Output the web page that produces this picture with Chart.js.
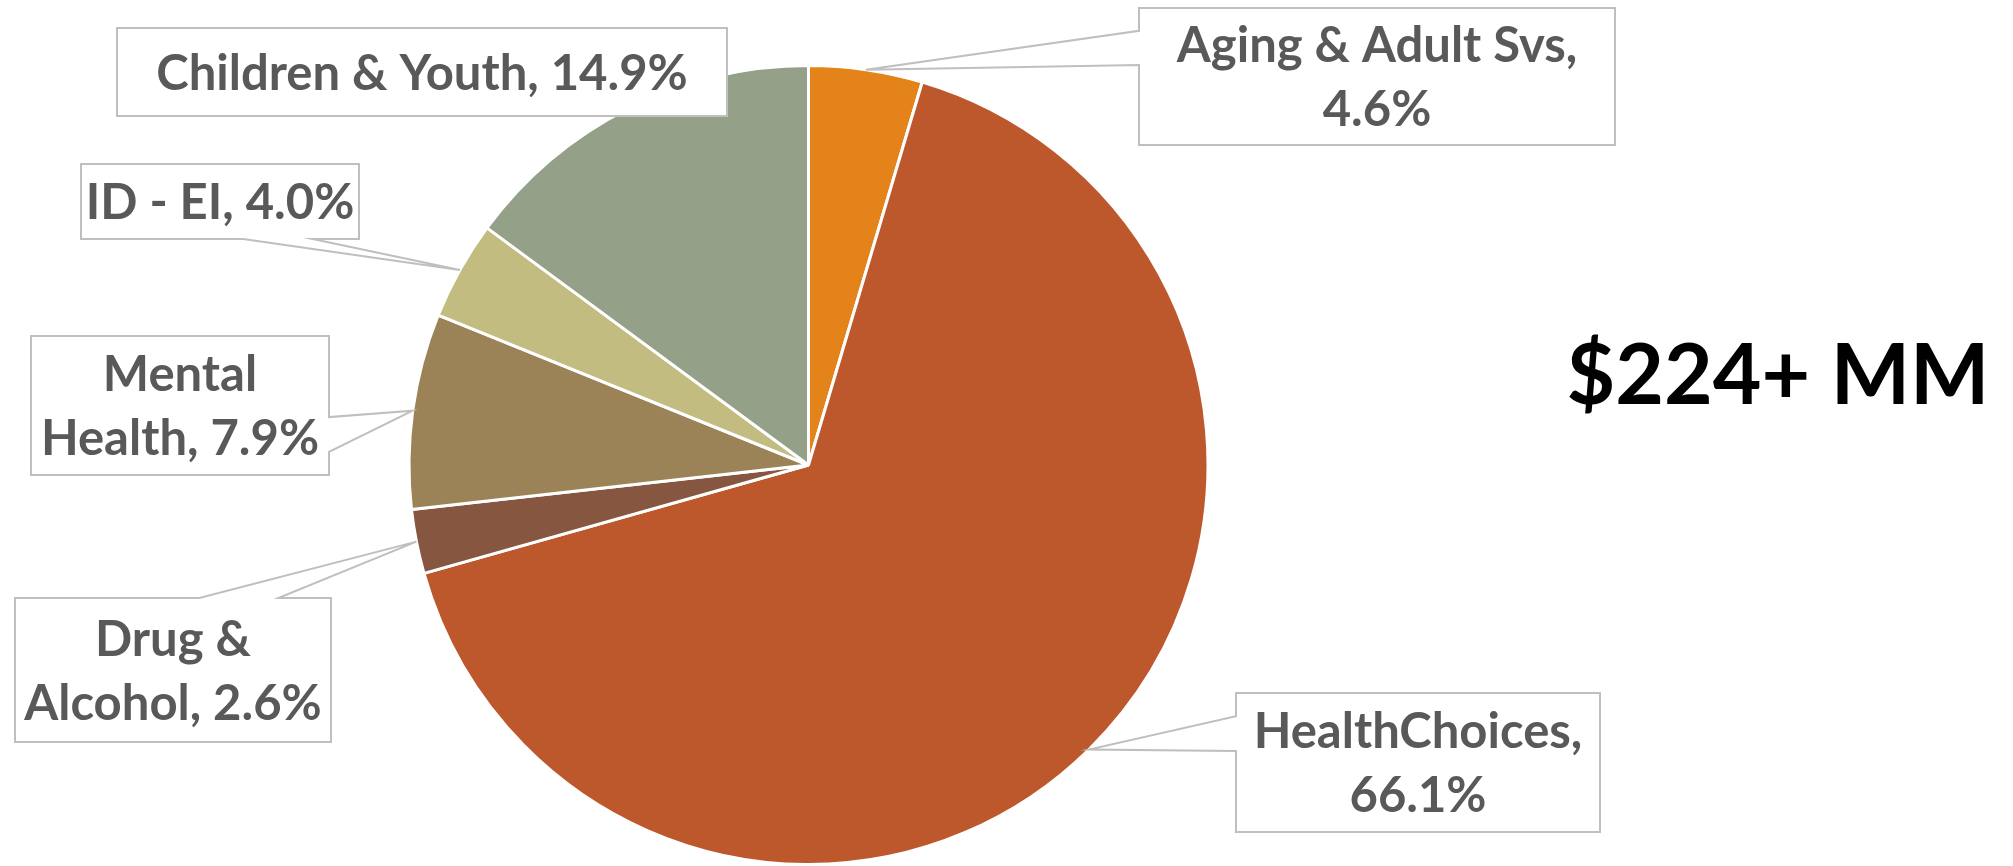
<!DOCTYPE html>
<html>
<head>
<meta charset="utf-8">
<script src="https://cdn.jsdelivr.net/npm/chart.js@4"></script>
<style>
  body { margin: 0; background: #fff; }
  #wrap { width: 2013px; height: 866px; }
</style>
</head>
<body>
<div id="wrap"><canvas id="grafico"></canvas></div>
<script>
// Datos del gráfico
const categorias = ["Aging & Adult Svs", "HealthChoices", "Drug & Alcohol", "Mental Health", "ID - EI", "Children & Youth"];
const porcentajes = [4.6, 66.1, 2.6, 7.9, 4.0, 14.9];
const total = "$224+ MM";

const colores = ["#E4831A", "#BD582C", "#865640", "#9B8357", "#C2BC80", "#94A088"];

// Cajas de las etiquetas (x, y, ancho, alto, ancho máximo de línea) en píxeles
const cajas = [
  { x: 1139, y: 8, w: 476, h: 137, linea: 460 },
  { x: 1236, y: 693, w: 364, h: 139, linea: 350 },
  { x: 15, y: 598, w: 316, h: 144, linea: 300 },
  { x: 31, y: 336, w: 298, h: 139, linea: 284 },
  { x: 81, y: 164, w: 278, h: 75, linea: 400 },
  { x: 117, y: 28, w: 610, h: 88, linea: 600 }
];

const fuente = "bold 49px Lato";
const altoLinea = 64;

function partirTexto(ctx, texto, maxAncho) {
  const palabras = texto.split(" ");
  const lineas = [];
  let actual = "";
  palabras.forEach(p => {
    const prueba = actual ? actual + " " + p : p;
    if (ctx.measureText(prueba).width > maxAncho && actual) {
      lineas.push(actual);
      actual = p;
    } else {
      actual = prueba;
    }
  });
  lineas.push(actual);
  return lineas;
}

const etiquetas = {
  id: "etiquetas",
  afterDraw(chart) {
    const ctx = chart.ctx;
    const meta = chart.getDatasetMeta(0);
    ctx.save();
    meta.data.forEach((arc, i) => {
      const p = arc.getProps(["x", "y", "startAngle", "endAngle", "outerRadius"], true);
      const medio = (p.startAngle + p.endAngle) / 2;
      const tx = p.x + Math.cos(medio) * p.outerRadius;
      const ty = p.y + Math.sin(medio) * p.outerRadius;
      const c = cajas[i];
      const x0 = c.x, y0 = c.y, x1 = c.x + c.w, y1 = c.y + c.h;
      const cx = (x0 + x1) / 2, cy = (y0 + y1) / 2;

      // lado de la caja hacia la punta
      const dx = (tx - cx) / (c.w / 2), dy = (ty - cy) / (c.h / 2);
      const dentro = tx > x0 && tx < x1 && ty > y0 - 4 && ty < y1 + 4;
      let lado = null;
      if (!dentro) {
        if (Math.abs(dx) > Math.abs(dy)) lado = dx > 0 ? "der" : "izq";
        else lado = dy > 0 ? "abajo" : "arriba";
      }

      ctx.beginPath();
      ctx.moveTo(x0, y0);
      if (lado === "arriba") {
        const [a, b] = tx > cx ? [7 / 12, 5 / 6] : [1 / 6, 5 / 12];
        ctx.lineTo(x0 + c.w * a, y0);
        ctx.lineTo(tx, ty);
        ctx.lineTo(x0 + c.w * b, y0);
      }
      ctx.lineTo(x1, y0);
      if (lado === "der") {
        const [a, b] = ty > cy ? [7 / 12, 5 / 6] : [1 / 6, 5 / 12];
        ctx.lineTo(x1, y0 + c.h * a);
        ctx.lineTo(tx, ty);
        ctx.lineTo(x1, y0 + c.h * b);
      }
      ctx.lineTo(x1, y1);
      if (lado === "abajo") {
        const [a, b] = tx > cx ? [7 / 12, 5 / 6] : [1 / 6, 5 / 12];
        ctx.lineTo(x0 + c.w * b, y1);
        ctx.lineTo(tx, ty);
        ctx.lineTo(x0 + c.w * a, y1);
      }
      ctx.lineTo(x0, y1);
      if (lado === "izq") {
        const [a, b] = ty > cy ? [7 / 12, 5 / 6] : [1 / 6, 5 / 12];
        ctx.lineTo(x0, y0 + c.h * b);
        ctx.lineTo(tx, ty);
        ctx.lineTo(x0, y0 + c.h * a);
      }
      ctx.closePath();
      ctx.fillStyle = "#fff";
      ctx.fill();
      ctx.strokeStyle = "#BFBFBF";
      ctx.lineWidth = 2;
      ctx.stroke();

      // texto
      ctx.font = fuente;
      ctx.fillStyle = "#595959";
      ctx.textAlign = "center";
      ctx.textBaseline = "middle";
      const texto = categorias[i] + ", " + porcentajes[i].toFixed(1) + "%";
      const lineas = partirTexto(ctx, texto, c.linea);
      const inicio = cy - (lineas.length - 1) * altoLinea / 2;
      lineas.forEach((l, k) => ctx.fillText(l, cx, inicio + k * altoLinea + 2));
    });

    // total
    ctx.font = "bold 84px Lato";
    ctx.fillStyle = "#000";
    ctx.textAlign = "center";
    ctx.textBaseline = "middle";
    ctx.fillText(total, 1778, 377);
    ctx.restore();
  }
};

const ctx = document.getElementById("grafico").getContext("2d");
new Chart(ctx, {
  type: "pie",
  data: {
    labels: categorias,
    datasets: [{
      data: porcentajes,
      backgroundColor: colores,
      borderColor: "#fff",
      borderWidth: 3
    }]
  },
  options: {
    responsive: true,
    maintainAspectRatio: false,
    animation: false,
    layout: { padding: { left: 407, right: 803, top: 64, bottom: 0 } },
    plugins: {
      legend: { display: false },
      tooltip: { enabled: false }
    }
  },
  plugins: [etiquetas]
});
</script>
</body>
</html>
